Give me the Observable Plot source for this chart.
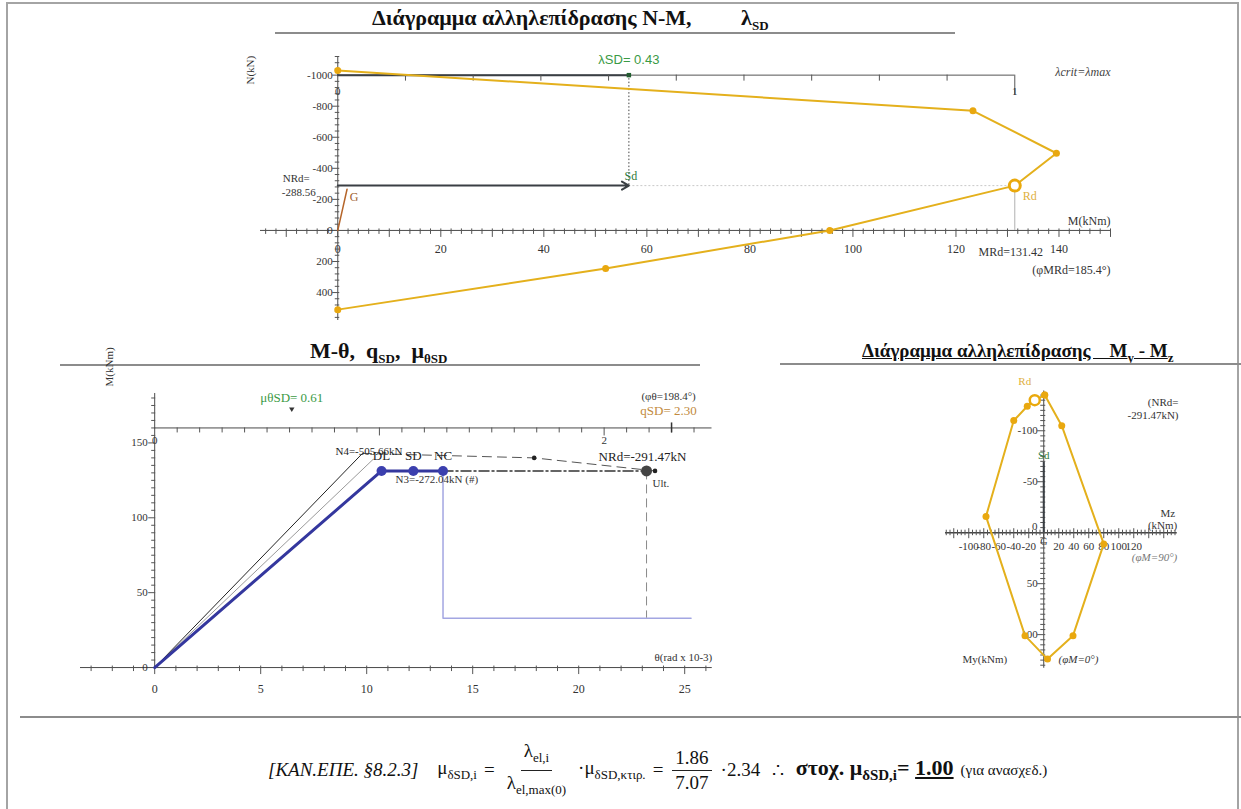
<!DOCTYPE html>
<html>
<head>
<meta charset="utf-8">
<script src="https://cdn.jsdelivr.net/npm/d3@7"></script>
<script src="https://cdn.jsdelivr.net/npm/@observablehq/plot@0.6"></script>
<style>
  body { margin: 0; background: #fff; font-family: "Liberation Serif", serif; color: #111; }
  #page { position: relative; width: 1241px; height: 809px; overflow: hidden; }
  .abs { position: absolute; }
  .border { position: absolute; left: 6px; top: 2px; width: 1229px; height: 830px; border: 2px solid #a4a4a4; }
  .hrule { position: absolute; height: 2px; background: #8c8c8c; }
  .title { position: absolute; font-weight: bold; font-size: 22px; white-space: nowrap; color: #111; }
  .title sub { font-size: 13px; }
  #formula { position: absolute; left: 268px; top: 742px; height: 56px; display: flex; align-items: center; gap: 7px; font-size: 19px; white-space: nowrap; }
  #formula sub { font-size: 13px; }
  .frac { display: inline-flex; flex-direction: column; align-items: center; margin: 0 2px; }
  .frac > span { padding: 0 3px; line-height: 24px; }
  .frac > span:first-child { border-bottom: 1px solid #222; }
  .it { font-style: italic; }
  .big { font-size: 22px; }
  .big sub { font-size: 15px !important; }
  .small { font-size: 15px; }
</style>
</head>
<body>
<div id="page">
  <div class="border"></div>
  <div class="title" style="left:372px; top:5px;">Διάγραμμα αλληλεπίδρασης N-M,&nbsp;&nbsp;&nbsp;&nbsp;&nbsp;&nbsp;&nbsp;&nbsp; λ<sub>SD</sub></div>
  <div class="hrule" style="left:275px; top:32px; width:680px;"></div>
  <div class="title" style="left:310px; top:338px;">M-θ,&nbsp; q<sub>SD</sub>,&nbsp; μ<sub>θSD</sub></div>
  <div class="hrule" style="left:60px; top:364px; width:640px;"></div>
  <div class="title" style="left:862px; top:340px; text-decoration: underline; font-size:19px;">Διάγραμμα αλληλεπίδρασης&nbsp;&nbsp;&nbsp; M<sub>y</sub> - M<sub>z</sub></div>
  <div class="hrule" style="left:780px; top:363px; width:461px;"></div>
  <div class="hrule" style="left:20px; top:716px; width:1221px;"></div>
  <div id="formula"></div>
</div>
<script>
// ---------- N-M interaction diagram (M in kNm, N in kN, compression negative) ----------
const nmM = [0, 123.3, 139.5, 131.42, 95.5, 52, 0];
const nmN = [-1030, -770, -497, -288.56, 0, 245, 510];
const MRd = 131.42, NRd = -288.56;
const lambdaSD = 0.43;
const lambdaAxisN = -1000;          // level at which the λ scale is drawn
const gravM = [0, 1.8], gravN = [0, -265];
const nmXLabels = [0, 20, 40, 60, 80, 100, 120, 140];
const nmYLabels = [-1000, -800, -600, -400, -200, 0, 200, 400];

// ---------- M-θ curves (θ in rad x 10^-3, M in kNm) ----------
const thBlue = [0, 10.7, 12.2, 13.6];
const mBlue = [0, 131.3, 131.3, 131.3];
const blueNames = ["DL", "SD", "NC"];
const thN4 = [0, 9.8], mN4 = [0, 143];
const thN4post = [9.8, 17.9, 23.6], mN4post = [143, 140, 131.3];
const thGrey = [0, 10.3], mGrey = [0, 139];
const thUlt = 23.2, mUlt = 131.3;
const mResidual = 33, thResidualEnd = 25.3;
const thetaY = 10.6;                 // yield rotation: μθ = 1
const muSD = 0.61, qSD = 2.30;
const mtXLabels = [0, 5, 10, 15, 20, 25];
const mtYLabels = [0, 50, 100, 150];
const muAxisM = 160, muAxisEnd = 2.48;

// ---------- My-Mz interaction (kNm) ----------
const mzPoly = [1.3, 24, 80, 39, 5, -25, -77, -40, -22, -12, 1.3];
const myPoly = [-135, -105, 11, 101, 124, 101, -16, -110, -124, -130, -135];
const rdMz = -12, rdMy = -130;
const sdMy = -69;
const myzXLabels = [-100, -80, -60, -40, -20, 20, 40, 60, 80, 100, 120];
const myzYLabels = [-100, -50, 50, 100];

// ---------- formula values ----------
const lamElI = 1.86, lamElMax = 7.07, muKtir = 2.34, muTarget = 1.00;

const serif = '"Liberation Serif", serif';
const sans = '"Liberation Sans", Arial, sans-serif';
const gold = "#e4b01c";
const dark = "#3a3f44";
const page = document.getElementById("page");

function place(svg, left, top) {
  const d = document.createElement("div");
  d.className = "abs";
  d.style.left = left + "px";
  d.style.top = top + "px";
  d.appendChild(svg);
  page.appendChild(d);
}
const fmt = d => String(d);
const baseStyle = {fontFamily: serif, fontSize: "12px", overflow: "visible", background: "transparent", color: "#333"};
const T = (data, opts) => Plot.text(data, {fontFamily: serif, fill: "#333", fontSize: 12, ...opts});

// ===================== N-M chart =====================
{
  const W = 900, H = 300, mL = 20, mR = 30, mT = 16, mB = 20;
  const xDom = [-15, 150], yDom = [580, -1120];
  const kx = (W - mL - mR) / (xDom[1] - xDom[0]);
  const ky = (H - mT - mB) / (yDom[0] - yDom[1]);
  const ux = p => p / kx, uy = p => p / ky;   // pixel lengths as data lengths
  const curve = nmM.map((m, i) => ({M: m, N: nmN[i]}));
  const vertices = curve.filter(d => d.M !== MRd);
  const xTicks = d3.range(-14, 151, 2);
  const yTicks = d3.range(-1120, 561, 40);
  const lamTicks = d3.range(1, 11).map(i => i / 10);
  const mSd = lambdaSD * MRd;

  const svg = Plot.plot({
    width: W, height: H, marginLeft: mL, marginRight: mR, marginTop: mT, marginBottom: mB,
    x: {domain: xDom, axis: null}, y: {domain: yDom, axis: null},
    style: baseStyle,
    marks: [
      // M axis
      Plot.ruleY([0], {x1: xDom[0], x2: xDom[1], stroke: "#4a4a4a"}),
      Plot.ruleX(xTicks, {x: d => d, y1: -uy(1.5), y2: d => uy(d % 10 === 0 ? 7 : 4), stroke: "#555"}),
      T(nmXLabels, {x: d => d, y: 0, text: fmt, dy: 19}),
      // N axis
      Plot.ruleX([0], {y1: yDom[0], y2: -1120, stroke: "#4a4a4a"}),
      Plot.ruleY(yTicks, {y: d => d, x1: d => -ux(d % 200 === 0 ? 5 : 2.5), x2: ux(2), stroke: "#555"}),
      T(nmYLabels, {x: 0, y: d => d, text: fmt, dx: -5, textAnchor: "end", fontSize: 11}),
      T(["N(kN)"], {frameAnchor: "top-left", dx: -14, dy: 28, rotate: -90, fontSize: 11}),
      // λ scale
      Plot.ruleY([lambdaAxisN], {x1: 0, x2: MRd, stroke: "#555"}),
      Plot.ruleY([lambdaAxisN], {x1: 0, x2: mSd, stroke: dark, strokeWidth: 2}),
      Plot.ruleX(lamTicks, {x: d => d * MRd, y1: lambdaAxisN, y2: d => lambdaAxisN + uy(d === 1 ? 20 : 6), stroke: "#555"}),
      T([0, 1], {x: d => d * MRd, y: lambdaAxisN, text: fmt, dy: 16, fontSize: 11}),
      Plot.dot([mSd], {x: d => d, y: lambdaAxisN, r: 2.5, symbol: "square", fill: "#1f5f2f"}),
      T(["λSD= " + lambdaSD.toFixed(2)], {x: mSd, y: lambdaAxisN, dy: -15, fill: "#3b9a45", fontFamily: sans, fontSize: 13}),
      T(["λcrit=λmax"], {frameAnchor: "top-right", dx: 0, dy: 11, fontStyle: "italic", fontSize: 12, fill: "#444"}),
      // Sd action
      Plot.ruleX([mSd], {y1: lambdaAxisN, y2: NRd, stroke: "#444", strokeDasharray: "1.5,2"}),
      Plot.ruleY([NRd], {x1: mSd, x2: MRd, stroke: "#c8c8c8", strokeDasharray: "2,2"}),
      Plot.arrow([0], {x1: 0, y1: NRd, x2: mSd, y2: NRd, stroke: dark, strokeWidth: 2, headLength: 6}),
      T(["Sd"], {x: mSd, y: NRd, dy: -9, dx: 2, fill: "#2e7a3a"}),
      T(["NRd="], {x: 0, y: NRd, dx: -55, dy: -7, textAnchor: "start", fontSize: 11}),
      T([NRd.toFixed(2)], {x: 0, y: NRd, dx: -56, dy: 7, textAnchor: "start", fontSize: 11}),
      // gravity load
      Plot.line(gravM.map((m, i) => ({M: m, N: gravN[i]})), {x: "M", y: "N", stroke: "#b5652a", strokeWidth: 1.5}),
      T(["G"], {x: gravM[1], y: gravN[1], dx: 7, dy: 8, fill: "#a0602e"}),
      // resistance
      Plot.ruleX([MRd], {y1: NRd, y2: 0, stroke: "#b0b0b0"}),
      Plot.line(curve, {x: "M", y: "N", stroke: gold, strokeWidth: 2}),
      Plot.dot(vertices, {x: "M", y: "N", r: 3.5, fill: "#e9a80f"}),
      Plot.dot([MRd], {x: d => d, y: NRd, r: 5.5, stroke: "#eaa90c", strokeWidth: 3, fill: "#fff"}),
      T(["Rd"], {x: MRd, y: NRd, dx: 15, dy: 11, fill: "#e0b040"}),
      T(["M(kNm)"], {x: xDom[1], y: 0, dy: -9, textAnchor: "end"}),
      T(["MRd=" + MRd.toFixed(2)], {x: MRd, y: 0, dx: -4, dy: 22}),
      T(["(φMRd=185.4°)"], {x: xDom[1], y: 0, dy: 40, textAnchor: "end"})
    ]
  });
  place(svg, 240, 40);
}

// ===================== M-θ chart =====================
{
  const W = 680, H = 345, mL = 20, mR = 24, mT = 20, mB = 18;
  const xDom = [-3.5, 26.5], yDom = [-20, 185];
  const kx = (W - mL - mR) / (xDom[1] - xDom[0]);
  const ky = (H - mT - mB) / (yDom[1] - yDom[0]);
  const ux = p => p / kx, uy = p => p / ky;
  const pts = (xs, ys) => xs.map((x, i) => ({t: x, m: ys[i]}));
  const blue = pts(thBlue, mBlue).map((d, i) => ({...d, name: blueNames[i - 1]}));
  const xTicks = d3.range(-3, 27, 1);
  const yTicks = d3.range(5, 181, 5);
  const muTicks = d3.range(1, 25).map(i => i / 10);
  const thNC = thBlue[3], mNC = mBlue[3];

  const svg = Plot.plot({
    width: W, height: H, marginLeft: mL, marginRight: mR, marginTop: mT, marginBottom: mB,
    x: {domain: xDom, axis: null}, y: {domain: yDom, axis: null},
    style: baseStyle,
    marks: [
      // θ axis
      Plot.ruleY([0], {x1: xDom[0], x2: 26.3, stroke: "#4a4a4a"}),
      Plot.ruleX(xTicks, {x: d => d, y1: uy(1.5), y2: d => -uy(d % 5 === 0 ? 7 : 4), stroke: "#555"}),
      T(mtXLabels, {x: d => d, y: 0, text: fmt, dy: 22}),
      T(["θ(rad x 10-3)"], {x: 26.3, y: 0, dy: -10, textAnchor: "end", fontSize: 11}),
      // M axis
      Plot.ruleX([0], {y1: 0, y2: 183, stroke: "#4a4a4a"}),
      Plot.ruleY(yTicks, {y: d => d, x1: d => -ux(d % 50 === 0 ? 6 : 3), x2: ux(1), stroke: "#555"}),
      T(mtYLabels, {x: 0, y: d => d, text: fmt, dx: -7, textAnchor: "end", fontSize: 11}),
      T(["M(kNm)"], {frameAnchor: "top-left", dx: 25, dy: -4, rotate: -90, fontSize: 11}),
      // μθ scale
      Plot.ruleY([muAxisM], {x1: 0, x2: muAxisEnd * thetaY, stroke: "#4a4a4a"}),
      Plot.ruleX(muTicks, {x: d => d * thetaY, y1: muAxisM, y2: d => muAxisM - uy(Number.isInteger(d) ? 8 : 5), stroke: "#555"}),
      T([0, 2], {x: d => d * thetaY, y: muAxisM, text: fmt, dy: 13, fontSize: 11}),
      Plot.ruleX([qSD], {x: d => d * thetaY, y1: muAxisM - uy(5), y2: muAxisM + uy(5), stroke: "#333", strokeWidth: 1.5}),
      T(["(φθ=198.4°)"], {x: qSD * thetaY, y: muAxisM, dy: -31, dx: -3, fontSize: 11}),
      T(["qSD= " + qSD.toFixed(2)], {x: qSD * thetaY, y: muAxisM, dy: -17, dx: -3, fontSize: 13, fill: "#c28a3c"}),
      Plot.dot([muSD], {x: d => d * thetaY, y: muAxisM, dy: -19, r: 2, symbol: "triangle", rotate: 180, fill: "#333"}),
      T(["μθSD= " + muSD.toFixed(2)], {x: muSD * thetaY, y: muAxisM, dy: -30, fill: "#3b9a45", fontSize: 13}),
      // residual branch and ultimate
      Plot.line([{t: thNC, m: mNC}, {t: thNC, m: mResidual}, {t: thResidualEnd, m: mResidual}], {x: "t", y: "m", stroke: "#a3a6e2", strokeWidth: 1.5}),
      Plot.ruleX([thUlt], {y1: mUlt, y2: mResidual, stroke: "#8a8a8a", strokeDasharray: "9,5"}),
      Plot.line([{t: thNC, m: mNC}, {t: thUlt, m: mUlt}], {x: "t", y: "m", stroke: "#333", strokeWidth: 1.5, strokeDasharray: "10,3,2,3"}),
      // N4 curve
      Plot.line(pts(thGrey, mGrey), {x: "t", y: "m", stroke: "#9a9a9a", strokeWidth: 1}),
      Plot.line(pts(thN4, mN4), {x: "t", y: "m", stroke: "#222", strokeWidth: 1}),
      Plot.line(pts(thN4post, mN4post), {x: "t", y: "m", stroke: "#555", strokeWidth: 1, strokeDasharray: "9,6"}),
      Plot.dot(pts(thN4post.slice(1), mN4post.slice(1)), {x: "t", y: "m", r: 2.3, fill: "#222"}),
      // design curve
      Plot.line(blue, {x: "t", y: "m", stroke: "#34379e", strokeWidth: 3}),
      Plot.dot(blue.slice(1), {x: "t", y: "m", r: 5, fill: "#3b3fae"}),
      Plot.dot([thUlt], {x: d => d, y: mUlt, r: 5.5, fill: "#444"}),
      // labels
      T(["N4=-505.66kN"], {x: thN4[1], y: mN4[1], dx: -27, dy: -2, textAnchor: "start", fontSize: 11, fill: "#222"}),
      T(blue.slice(1), {x: "t", y: "m", text: "name", dy: -15, fontSize: 13, fill: "#222"}),
      T(["N3=-272.04kN (#)"], {x: thBlue[1], y: mBlue[1], dx: 14, dy: 9, textAnchor: "start", fontSize: 11}),
      T(["NRd=-291.47kN"], {x: thUlt, y: mUlt, dy: -14, dx: -4, fontSize: 13, fill: "#222"}),
      T(["Ult."], {x: thUlt, y: mUlt, dx: 6, dy: 13, textAnchor: "start", fontSize: 11})
    ]
  });
  place(svg, 60, 370);
}

// ===================== My-Mz chart =====================
{
  const W = 340, H = 325, mL = 42, mR = 58, mT = 4, mB = 5;
  const xDom = [-135, 185], yDom = [145, -165];
  const kx = (W - mL - mR) / (xDom[1] - xDom[0]);
  const ky = (H - mT - mB) / (yDom[0] - yDom[1]);
  const ux = p => p / kx, uy = p => p / ky;
  const poly = mzPoly.map((z, i) => ({z, y: myPoly[i]}));
  const xTicks = d3.range(-130, 176, 5);
  const yTicks = d3.range(-135, 131, 5);

  const svg = Plot.plot({
    width: W, height: H, marginLeft: mL, marginRight: mR, marginTop: mT, marginBottom: mB,
    x: {domain: xDom, axis: null}, y: {domain: yDom, axis: null},
    style: baseStyle,
    marks: [
      Plot.ruleY([0], {x1: -131, x2: 178, stroke: "#444", strokeWidth: 1.5}),
      Plot.ruleX(xTicks, {x: d => d, y1: d => -uy(d % 20 === 0 ? 4 : 2.5), y2: d => uy(d % 20 === 0 ? 6 : 3), stroke: "#555"}),
      T(myzXLabels, {x: d => d, y: 0, text: fmt, dy: 14, fontSize: 11}),
      T(["0"], {x: 0, y: 0, dx: -9, dy: -6, fontSize: 11}),
      Plot.ruleX([0], {y1: -139, y2: 133, stroke: "#444"}),
      Plot.ruleY(yTicks, {y: d => d, x1: d => -ux(d % 50 === 0 ? 6 : 3), x2: ux(2), stroke: "#555"}),
      T(myzYLabels, {x: 0, y: d => d, text: fmt, dx: -6, textAnchor: "end", fontSize: 11}),
      T(["Mz"], {x: 178, y: 0, dy: -19, dx: -2, textAnchor: "end", fontSize: 11}),
      T(["(kNm)"], {x: 178, y: 0, dy: -7, textAnchor: "end", fontSize: 11}),
      T(["(φM=90°)"], {x: 178, y: 0, dy: 25, textAnchor: "end", fontStyle: "italic", fontSize: 11, fill: "#777"}),
      T(["(NRd="], {frameAnchor: "top-right", dx: -4, dy: 34, textAnchor: "end", fontSize: 11}),
      T(["-291.47kN)"], {frameAnchor: "top-right", dx: -4, dy: 47, textAnchor: "end", fontSize: 11}),
      T(["My(kNm)"], {frameAnchor: "bottom-left", dx: 20, dy: -18, textAnchor: "start", fontSize: 11}),
      T(["(φM=0°)"], {frameAnchor: "bottom-left", dx: 116, dy: -18, textAnchor: "start", fontStyle: "italic", fontSize: 11}),
      // Sd
      Plot.ruleX([0], {y1: 0, y2: sdMy, stroke: dark, strokeWidth: 2}),
      T(["Sd"], {x: 0, y: sdMy, dy: -7, fontSize: 11, fill: "#2e7a3a"}),
      T(["G"], {x: 0, y: 0, dy: 9, fontSize: 10, fill: "#444"}),
      // resistance
      Plot.line(poly, {x: "z", y: "y", stroke: gold, strokeWidth: 2}),
      Plot.dot(poly.filter(d => d.z !== rdMz), {x: "z", y: "y", r: 3.5, fill: "#e9a80f"}),
      Plot.dot([rdMz], {x: d => d, y: rdMy, r: 5, stroke: "#eaa90c", strokeWidth: 2.5, fill: "#fff"}),
      T(["Rd"], {x: rdMz, y: rdMy, dx: -10, dy: -19, fontSize: 11, fill: "#e0b040"})
    ]
  });
  place(svg, 900, 360);
}

// ===================== formula =====================
document.getElementById("formula").innerHTML =
  '<span class="it">[ΚΑΝ.ΕΠΕ. §8.2.3]</span>&nbsp;' +
  '<span>μ<sub>δSD,i</sub></span><span>=</span>' +
  '<span class="frac"><span>λ<sub>el,i</sub></span><span>λ<sub>el,max(0)</sub></span></span>' +
  '<span>·μ<sub>δSD,κτιρ.</sub></span><span>=</span>' +
  '<span class="frac"><span>' + lamElI.toFixed(2) + '</span><span>' + lamElMax.toFixed(2) + '</span></span>' +
  '<span>·' + muKtir.toFixed(2) + '</span><span>&nbsp;∴&nbsp;</span>' +
  '<b class="big">στοχ. μ<sub>δSD,i</sub>= <u>' + muTarget.toFixed(2) + '</u></b>' +
  '<span class="small">(για ανασχεδ.)</span>';
</script>
</body>
</html>
